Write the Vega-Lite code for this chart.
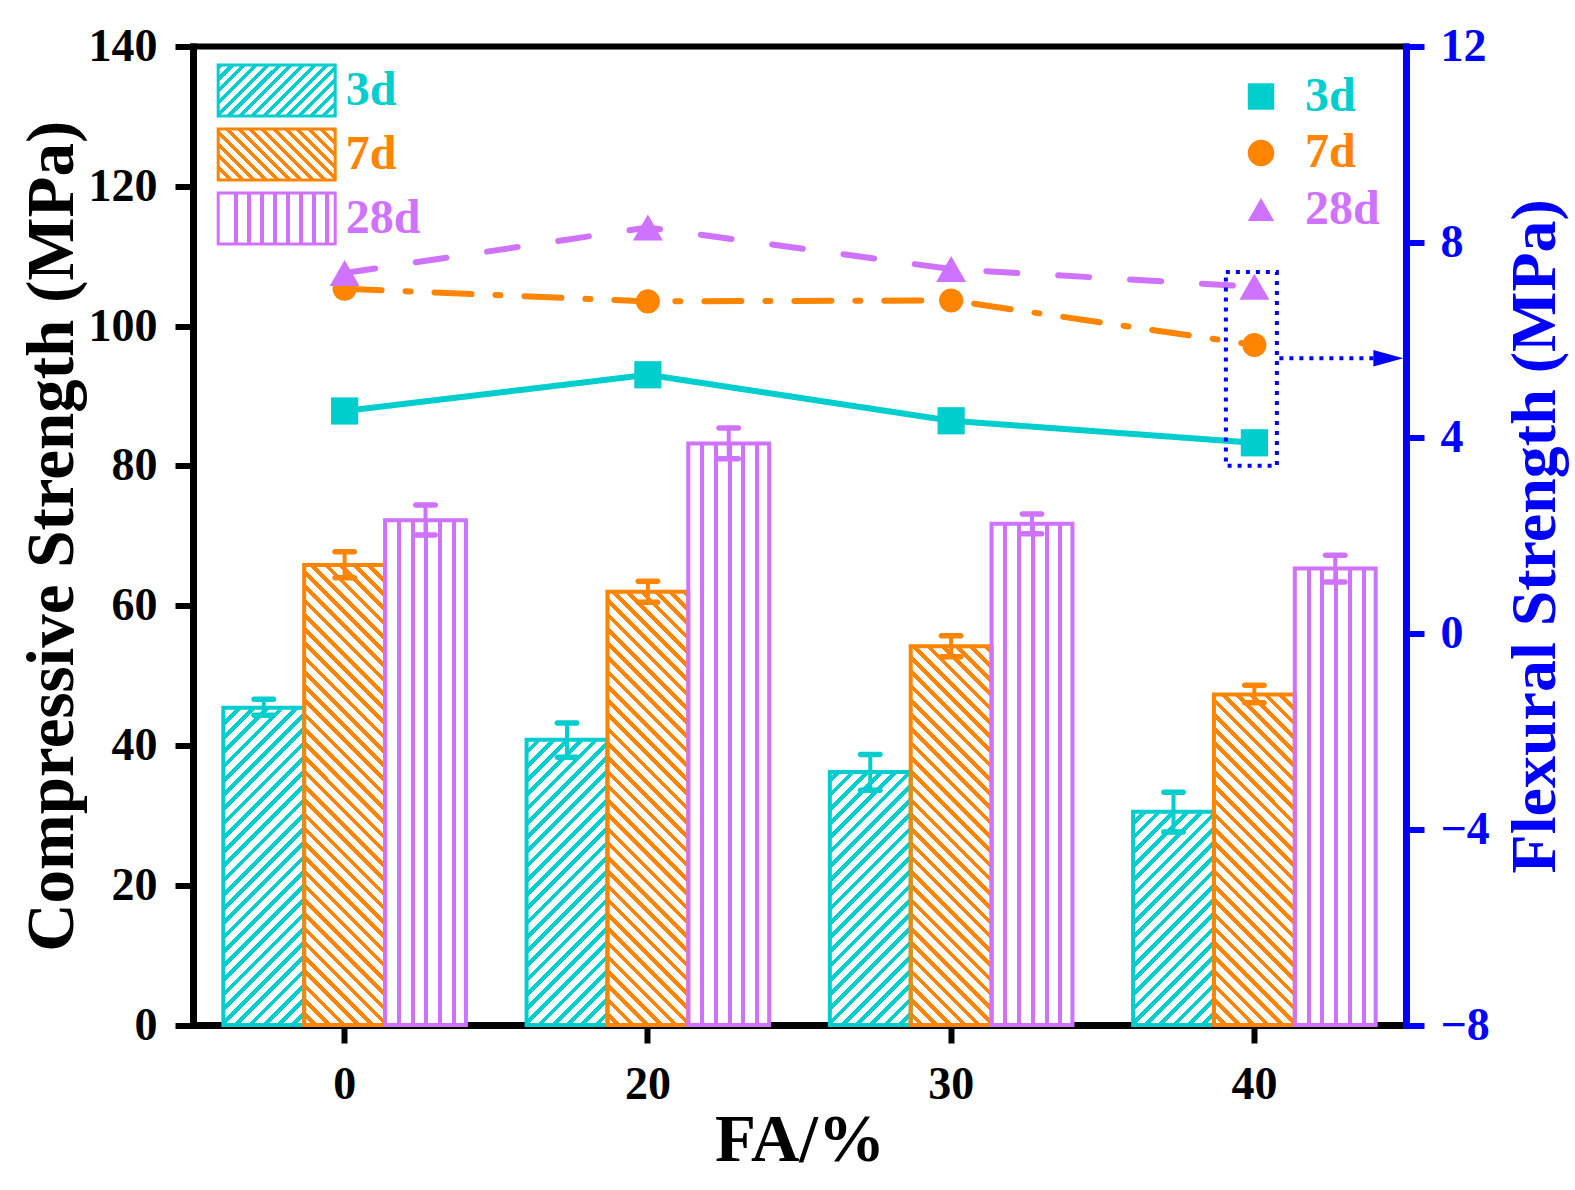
{
"$schema":"https://vega.github.io/schema/vega-lite/v6.json",
"width":1213,"height":978.5,
"autosize":{"type":"none"},
"padding":{"left":193,"top":46.5,"right":169,"bottom":165},
"background":"white",
"datasets":{
"comp":[
{"FA":0,"age":"3d","cs":45.4,"lo":44.3,"hi":46.6},
{"FA":0,"age":"7d","cs":65.8,"lo":64.0,"hi":67.7},
{"FA":0,"age":"28d","cs":72.2,"lo":70.1,"hi":74.4},
{"FA":20,"age":"3d","cs":40.8,"lo":38.3,"hi":43.2},
{"FA":20,"age":"7d","cs":62.0,"lo":60.5,"hi":63.5},
{"FA":20,"age":"28d","cs":83.2,"lo":81.0,"hi":85.4},
{"FA":30,"age":"3d","cs":36.2,"lo":33.6,"hi":38.7},
{"FA":30,"age":"7d","cs":54.2,"lo":52.7,"hi":55.7},
{"FA":30,"age":"28d","cs":71.7,"lo":70.3,"hi":73.1},
{"FA":40,"age":"3d","cs":30.5,"lo":27.6,"hi":33.3},
{"FA":40,"age":"7d","cs":47.3,"lo":46.1,"hi":48.6},
{"FA":40,"age":"28d","cs":65.3,"lo":63.4,"hi":67.2}
],
"flex":[
{"FA":0,"age":"3d","fs":4.55},{"FA":20,"age":"3d","fs":5.29},{"FA":30,"age":"3d","fs":4.35},{"FA":40,"age":"3d","fs":3.90},
{"FA":0,"age":"7d","fs":7.05},{"FA":20,"age":"7d","fs":6.79},{"FA":30,"age":"7d","fs":6.81},{"FA":40,"age":"7d","fs":5.90},
{"FA":0,"age":"28d","fs":7.37},{"FA":20,"age":"28d","fs":8.30},{"FA":30,"age":"28d","fs":7.45},{"FA":40,"age":"28d","fs":7.09}
],
"note":[{"FA":40,"lo":3.43,"hi":7.39,"arrow":5.63}]
},
"encoding":{"x":{"field":"FA","type":"ordinal","scale":{"domain":[0,20,30,40],"paddingInner":0.2,"paddingOuter":0.1},"axis":{"title":"FA/%","labelAngle":0,"labelPadding":19,"titlePadding":0,"values":[0,20,30,40]}}},
"layer":[
{"encoding":{"xOffset":{"field":"age","type":"nominal","scale":{"domain":["3d","7d","28d"],"paddingInner":0,"paddingOuter":0}}},
"layer":[
{"data":{"name":"comp"},"transform":[{"filter":"datum.age == '3d'"}],
"mark":{"type":"bar","strokeWidth":0,"fill":{"gradient":"linear","x1":0,"y1":0,"x2":0.1875,"y2":1.1343,"stops":[
{"offset":0.275,"color":"#00CDCD"},{"offset":0.285,"color":"#00CDCD"},{"offset":0.285,"color":"#fff"},{"offset":0.3,"color":"#fff"},
{"offset":0.3,"color":"#00CDCD"},{"offset":0.31,"color":"#00CDCD"},{"offset":0.31,"color":"#fff"},{"offset":0.325,"color":"#fff"},
{"offset":0.325,"color":"#00CDCD"},{"offset":0.335,"color":"#00CDCD"},{"offset":0.335,"color":"#fff"},{"offset":0.35,"color":"#fff"},
{"offset":0.35,"color":"#00CDCD"},{"offset":0.36,"color":"#00CDCD"},{"offset":0.36,"color":"#fff"},{"offset":0.375,"color":"#fff"},
{"offset":0.375,"color":"#00CDCD"},{"offset":0.385,"color":"#00CDCD"},{"offset":0.385,"color":"#fff"},{"offset":0.4,"color":"#fff"},
{"offset":0.4,"color":"#00CDCD"},{"offset":0.41,"color":"#00CDCD"},{"offset":0.41,"color":"#fff"},{"offset":0.425,"color":"#fff"},
{"offset":0.425,"color":"#00CDCD"},{"offset":0.435,"color":"#00CDCD"},{"offset":0.435,"color":"#fff"},{"offset":0.45,"color":"#fff"},
{"offset":0.45,"color":"#00CDCD"},{"offset":0.46,"color":"#00CDCD"},{"offset":0.46,"color":"#fff"},{"offset":0.475,"color":"#fff"},
{"offset":0.475,"color":"#00CDCD"},{"offset":0.485,"color":"#00CDCD"},{"offset":0.485,"color":"#fff"},{"offset":0.5,"color":"#fff"},
{"offset":0.5,"color":"#00CDCD"},{"offset":0.51,"color":"#00CDCD"},{"offset":0.51,"color":"#fff"},{"offset":0.525,"color":"#fff"},
{"offset":0.525,"color":"#00CDCD"},{"offset":0.535,"color":"#00CDCD"},{"offset":0.535,"color":"#fff"},{"offset":0.55,"color":"#fff"},
{"offset":0.55,"color":"#00CDCD"},{"offset":0.56,"color":"#00CDCD"},{"offset":0.56,"color":"#fff"},{"offset":0.575,"color":"#fff"},
{"offset":0.575,"color":"#00CDCD"},{"offset":0.585,"color":"#00CDCD"},{"offset":0.585,"color":"#fff"},{"offset":0.6,"color":"#fff"},
{"offset":0.6,"color":"#00CDCD"},{"offset":0.61,"color":"#00CDCD"},{"offset":0.61,"color":"#fff"},{"offset":0.625,"color":"#fff"},
{"offset":0.625,"color":"#00CDCD"},{"offset":0.635,"color":"#00CDCD"},{"offset":0.635,"color":"#fff"},{"offset":0.65,"color":"#fff"},
{"offset":0.65,"color":"#00CDCD"},{"offset":0.66,"color":"#00CDCD"},{"offset":0.66,"color":"#fff"},{"offset":0.675,"color":"#fff"},
{"offset":0.675,"color":"#00CDCD"},{"offset":0.685,"color":"#00CDCD"},{"offset":0.685,"color":"#fff"},{"offset":0.7,"color":"#fff"},
{"offset":0.7,"color":"#00CDCD"},{"offset":0.71,"color":"#00CDCD"},{"offset":0.71,"color":"#fff"},{"offset":0.725,"color":"#fff"},
{"offset":0.725,"color":"#00CDCD"},{"offset":0.735,"color":"#00CDCD"},{"offset":0.735,"color":"#fff"},{"offset":0.75,"color":"#fff"},
{"offset":0.75,"color":"#00CDCD"},{"offset":0.76,"color":"#00CDCD"},{"offset":0.76,"color":"#fff"},{"offset":0.775,"color":"#fff"},
{"offset":0.775,"color":"#00CDCD"},{"offset":0.785,"color":"#00CDCD"},{"offset":0.785,"color":"#fff"},{"offset":0.8,"color":"#fff"},
{"offset":0.8,"color":"#00CDCD"},{"offset":0.81,"color":"#00CDCD"},{"offset":0.81,"color":"#fff"},{"offset":0.825,"color":"#fff"},
{"offset":0.825,"color":"#00CDCD"},{"offset":0.835,"color":"#00CDCD"},{"offset":0.835,"color":"#fff"},{"offset":0.85,"color":"#fff"},
{"offset":0.85,"color":"#00CDCD"},{"offset":0.86,"color":"#00CDCD"},{"offset":0.86,"color":"#fff"},{"offset":0.875,"color":"#fff"},
{"offset":0.875,"color":"#00CDCD"},{"offset":0.885,"color":"#00CDCD"},{"offset":0.885,"color":"#fff"},{"offset":0.9,"color":"#fff"},
{"offset":0.9,"color":"#00CDCD"},{"offset":0.91,"color":"#00CDCD"},{"offset":0.91,"color":"#fff"},{"offset":0.925,"color":"#fff"},
{"offset":0.925,"color":"#00CDCD"},{"offset":0.935,"color":"#00CDCD"},{"offset":0.935,"color":"#fff"},{"offset":0.95,"color":"#fff"},
{"offset":0.95,"color":"#00CDCD"},{"offset":0.96,"color":"#00CDCD"},{"offset":0.96,"color":"#fff"},{"offset":0.975,"color":"#fff"},
{"offset":0.975,"color":"#00CDCD"},{"offset":0.985,"color":"#00CDCD"},{"offset":0.985,"color":"#fff"},{"offset":1,"color":"#fff"}
]}},
"encoding":{"y":{"datum":0,"type":"quantitative"},"y2":{"datum":70}}},
{"data":{"name":"comp"},"transform":[{"filter":"datum.age == '7d'"}],
"mark":{"type":"bar","strokeWidth":0,"fill":{"gradient":"linear","x1":1,"y1":0,"x2":0.8125,"y2":1.1343,"stops":[
{"offset":0.025,"color":"#FF8400"},{"offset":0.035,"color":"#FF8400"},{"offset":0.035,"color":"#fff"},{"offset":0.05,"color":"#fff"},
{"offset":0.05,"color":"#FF8400"},{"offset":0.06,"color":"#FF8400"},{"offset":0.06,"color":"#fff"},{"offset":0.075,"color":"#fff"},
{"offset":0.075,"color":"#FF8400"},{"offset":0.085,"color":"#FF8400"},{"offset":0.085,"color":"#fff"},{"offset":0.1,"color":"#fff"},
{"offset":0.1,"color":"#FF8400"},{"offset":0.11,"color":"#FF8400"},{"offset":0.11,"color":"#fff"},{"offset":0.125,"color":"#fff"},
{"offset":0.125,"color":"#FF8400"},{"offset":0.135,"color":"#FF8400"},{"offset":0.135,"color":"#fff"},{"offset":0.15,"color":"#fff"},
{"offset":0.15,"color":"#FF8400"},{"offset":0.16,"color":"#FF8400"},{"offset":0.16,"color":"#fff"},{"offset":0.175,"color":"#fff"},
{"offset":0.175,"color":"#FF8400"},{"offset":0.185,"color":"#FF8400"},{"offset":0.185,"color":"#fff"},{"offset":0.2,"color":"#fff"},
{"offset":0.2,"color":"#FF8400"},{"offset":0.21,"color":"#FF8400"},{"offset":0.21,"color":"#fff"},{"offset":0.225,"color":"#fff"},
{"offset":0.225,"color":"#FF8400"},{"offset":0.235,"color":"#FF8400"},{"offset":0.235,"color":"#fff"},{"offset":0.25,"color":"#fff"},
{"offset":0.25,"color":"#FF8400"},{"offset":0.26,"color":"#FF8400"},{"offset":0.26,"color":"#fff"},{"offset":0.275,"color":"#fff"},
{"offset":0.275,"color":"#FF8400"},{"offset":0.285,"color":"#FF8400"},{"offset":0.285,"color":"#fff"},{"offset":0.3,"color":"#fff"},
{"offset":0.3,"color":"#FF8400"},{"offset":0.31,"color":"#FF8400"},{"offset":0.31,"color":"#fff"},{"offset":0.325,"color":"#fff"},
{"offset":0.325,"color":"#FF8400"},{"offset":0.335,"color":"#FF8400"},{"offset":0.335,"color":"#fff"},{"offset":0.35,"color":"#fff"},
{"offset":0.35,"color":"#FF8400"},{"offset":0.36,"color":"#FF8400"},{"offset":0.36,"color":"#fff"},{"offset":0.375,"color":"#fff"},
{"offset":0.375,"color":"#FF8400"},{"offset":0.385,"color":"#FF8400"},{"offset":0.385,"color":"#fff"},{"offset":0.4,"color":"#fff"},
{"offset":0.4,"color":"#FF8400"},{"offset":0.41,"color":"#FF8400"},{"offset":0.41,"color":"#fff"},{"offset":0.425,"color":"#fff"},
{"offset":0.425,"color":"#FF8400"},{"offset":0.435,"color":"#FF8400"},{"offset":0.435,"color":"#fff"},{"offset":0.45,"color":"#fff"},
{"offset":0.45,"color":"#FF8400"},{"offset":0.46,"color":"#FF8400"},{"offset":0.46,"color":"#fff"},{"offset":0.475,"color":"#fff"},
{"offset":0.475,"color":"#FF8400"},{"offset":0.485,"color":"#FF8400"},{"offset":0.485,"color":"#fff"},{"offset":0.5,"color":"#fff"},
{"offset":0.5,"color":"#FF8400"},{"offset":0.51,"color":"#FF8400"},{"offset":0.51,"color":"#fff"},{"offset":0.525,"color":"#fff"},
{"offset":0.525,"color":"#FF8400"},{"offset":0.535,"color":"#FF8400"},{"offset":0.535,"color":"#fff"},{"offset":0.55,"color":"#fff"},
{"offset":0.55,"color":"#FF8400"},{"offset":0.56,"color":"#FF8400"},{"offset":0.56,"color":"#fff"},{"offset":0.575,"color":"#fff"},
{"offset":0.575,"color":"#FF8400"},{"offset":0.585,"color":"#FF8400"},{"offset":0.585,"color":"#fff"},{"offset":0.6,"color":"#fff"},
{"offset":0.6,"color":"#FF8400"},{"offset":0.61,"color":"#FF8400"},{"offset":0.61,"color":"#fff"},{"offset":0.625,"color":"#fff"},
{"offset":0.625,"color":"#FF8400"},{"offset":0.635,"color":"#FF8400"},{"offset":0.635,"color":"#fff"},{"offset":0.65,"color":"#fff"},
{"offset":0.65,"color":"#FF8400"},{"offset":0.66,"color":"#FF8400"},{"offset":0.66,"color":"#fff"},{"offset":0.675,"color":"#fff"},
{"offset":0.675,"color":"#FF8400"},{"offset":0.685,"color":"#FF8400"},{"offset":0.685,"color":"#fff"},{"offset":0.7,"color":"#fff"},
{"offset":0.7,"color":"#FF8400"},{"offset":0.71,"color":"#FF8400"},{"offset":0.71,"color":"#fff"},{"offset":0.725,"color":"#fff"},
{"offset":0.725,"color":"#FF8400"},{"offset":0.735,"color":"#FF8400"},{"offset":0.735,"color":"#fff"},{"offset":0.75,"color":"#fff"},
{"offset":0.75,"color":"#FF8400"},{"offset":0.76,"color":"#FF8400"},{"offset":0.76,"color":"#fff"},{"offset":0.775,"color":"#fff"},
{"offset":0.775,"color":"#FF8400"},{"offset":0.785,"color":"#FF8400"},{"offset":0.785,"color":"#fff"},{"offset":0.8,"color":"#fff"},
{"offset":0.8,"color":"#FF8400"},{"offset":0.81,"color":"#FF8400"},{"offset":0.81,"color":"#fff"},{"offset":0.825,"color":"#fff"},
{"offset":0.825,"color":"#FF8400"},{"offset":0.835,"color":"#FF8400"},{"offset":0.835,"color":"#fff"},{"offset":0.85,"color":"#fff"},
{"offset":0.85,"color":"#FF8400"},{"offset":0.86,"color":"#FF8400"},{"offset":0.86,"color":"#fff"},{"offset":0.875,"color":"#fff"},
{"offset":0.875,"color":"#FF8400"},{"offset":0.885,"color":"#FF8400"},{"offset":0.885,"color":"#fff"},{"offset":0.9,"color":"#fff"},
{"offset":0.9,"color":"#FF8400"},{"offset":0.91,"color":"#FF8400"},{"offset":0.91,"color":"#fff"},{"offset":0.925,"color":"#fff"},
{"offset":0.925,"color":"#FF8400"},{"offset":0.935,"color":"#FF8400"},{"offset":0.935,"color":"#fff"},{"offset":0.95,"color":"#fff"},
{"offset":0.95,"color":"#FF8400"},{"offset":0.96,"color":"#FF8400"},{"offset":0.96,"color":"#fff"},{"offset":0.975,"color":"#fff"},
{"offset":0.975,"color":"#FF8400"},{"offset":0.985,"color":"#FF8400"},{"offset":0.985,"color":"#fff"},{"offset":1,"color":"#fff"}
]}},
"encoding":{"y":{"datum":0,"type":"quantitative"},"y2":{"datum":70}}},
{"data":{"name":"comp"},"transform":[{"filter":"datum.age == '28d'"}],
"mark":{"type":"bar","strokeWidth":0,"fill":{"gradient":"linear","x1":0,"y1":0,"x2":1,"y2":0,"stops":[
{"offset":0,"color":"#fff"},{"offset":0.145,"color":"#fff"},{"offset":0.145,"color":"#CF72FF"},{"offset":0.195,"color":"#CF72FF"},{"offset":0.195,"color":"#fff"},
{"offset":0.315,"color":"#fff"},{"offset":0.315,"color":"#CF72FF"},{"offset":0.365,"color":"#CF72FF"},{"offset":0.365,"color":"#fff"},
{"offset":0.485,"color":"#fff"},{"offset":0.485,"color":"#CF72FF"},{"offset":0.535,"color":"#CF72FF"},{"offset":0.535,"color":"#fff"},
{"offset":0.655,"color":"#fff"},{"offset":0.655,"color":"#CF72FF"},{"offset":0.705,"color":"#CF72FF"},{"offset":0.705,"color":"#fff"},
{"offset":0.825,"color":"#fff"},{"offset":0.825,"color":"#CF72FF"},{"offset":0.875,"color":"#CF72FF"},{"offset":0.875,"color":"#fff"},
{"offset":1,"color":"#fff"}
]}},
"encoding":{"y":{"field":"cs","type":"quantitative","stack":null}}},
{"data":{"name":"comp"},"transform":[{"filter":"datum.age != '28d'"}],
"mark":{"type":"bar","fill":"white","stroke":"white","strokeWidth":3},
"encoding":{"y":{"field":"cs","type":"quantitative"},"y2":{"datum":70}}},
{"data":{"name":"comp"},
"mark":{"type":"bar","filled":false,"strokeWidth":4,"strokeJoin":"miter","opacity":1},
"encoding":{
"y":{"field":"cs","type":"quantitative","stack":null,"scale":{"domain":[0,140],"nice":false},
"axis":{"orient":"left","values":[0,20,40,60,80,100,120,140],"title":"Compressive Strength (MPa)","labelPadding":18,"titlePadding":2}},
"color":{"field":"age","type":"nominal","scale":{"domain":["28d","3d","7d"],"range":["#CF72FF","#00CDCD","#FF8400"]},"legend":null}}},
{"data":{"name":"comp"},"mark":{"type":"rule","strokeWidth":4},
"encoding":{"y":{"field":"lo","type":"quantitative"},"y2":{"field":"hi"},
"stroke":{"field":"age","type":"nominal","scale":{"domain":["3d","7d","28d"],"range":["#00CDCD","#FF8400","#CF72FF"]},
"legend":{"orient":"none","legendX":56.7,"legendY":17,"title":null,"padding":0,"rowPadding":0,"labelOffset":42,
"symbolType":"M-2.294,-1H2.294V1H-2.294Z","symbolSize":2601,"symbolStrokeWidth":3,"symbolOpacity":1,
"labelColor":{"expr":"datum.value=='3d'?'#00CDCD':datum.value=='7d'?'#FF8400':'#CF72FF'"},
"symbolFillColor":{"expr":"datum.value=='3d'?{gradient:'linear',x1:0,y1:0,x2:1.2066,y2:0.526,stops:[{offset:0,color:'#00CDCD'},{offset:0.03,color:'#00CDCD'},{offset:0.03,color:'#fff'},{offset:0.07,color:'#fff'},{offset:0.07,color:'#00CDCD'},{offset:0.1,color:'#00CDCD'},{offset:0.1,color:'#fff'},{offset:0.14,color:'#fff'},{offset:0.14,color:'#00CDCD'},{offset:0.17,color:'#00CDCD'},{offset:0.17,color:'#fff'},{offset:0.21,color:'#fff'},{offset:0.21,color:'#00CDCD'},{offset:0.24,color:'#00CDCD'},{offset:0.24,color:'#fff'},{offset:0.28,color:'#fff'},{offset:0.28,color:'#00CDCD'},{offset:0.31,color:'#00CDCD'},{offset:0.31,color:'#fff'},{offset:0.35,color:'#fff'},{offset:0.35,color:'#00CDCD'},{offset:0.38,color:'#00CDCD'},{offset:0.38,color:'#fff'},{offset:0.42,color:'#fff'},{offset:0.42,color:'#00CDCD'},{offset:0.45,color:'#00CDCD'},{offset:0.45,color:'#fff'},{offset:0.49,color:'#fff'},{offset:0.49,color:'#00CDCD'},{offset:0.52,color:'#00CDCD'},{offset:0.52,color:'#fff'},{offset:0.56,color:'#fff'},{offset:0.56,color:'#00CDCD'},{offset:0.59,color:'#00CDCD'},{offset:0.59,color:'#fff'},{offset:0.63,color:'#fff'},{offset:0.63,color:'#00CDCD'},{offset:0.66,color:'#00CDCD'},{offset:0.66,color:'#fff'},{offset:0.7,color:'#fff'},{offset:0.7,color:'#00CDCD'},{offset:0.73,color:'#00CDCD'},{offset:0.73,color:'#fff'},{offset:0.77,color:'#fff'},{offset:0.77,color:'#00CDCD'},{offset:0.8,color:'#00CDCD'},{offset:0.8,color:'#fff'},{offset:0.84,color:'#fff'},{offset:0.84,color:'#00CDCD'},{offset:0.87,color:'#00CDCD'},{offset:0.87,color:'#fff'},{offset:0.91,color:'#fff'},{offset:0.91,color:'#00CDCD'},{offset:0.94,color:'#00CDCD'},{offset:0.94,color:'#fff'},{offset:0.98,color:'#fff'},{offset:0.98,color:'#00CDCD'},{offset:1,color:'#00CDCD'}]}:datum.value=='7d'?{gradient:'linear',x1:1,y1:0,x2:-0.2066,y2:0.526,stops:[{offset:0,color:'#FF8400'},{offset:0.03,color:'#FF8400'},{offset:0.03,color:'#fff'},{offset:0.07,color:'#fff'},{offset:0.07,color:'#FF8400'},{offset:0.1,color:'#FF8400'},{offset:0.1,color:'#fff'},{offset:0.14,color:'#fff'},{offset:0.14,color:'#FF8400'},{offset:0.17,color:'#FF8400'},{offset:0.17,color:'#fff'},{offset:0.21,color:'#fff'},{offset:0.21,color:'#FF8400'},{offset:0.24,color:'#FF8400'},{offset:0.24,color:'#fff'},{offset:0.28,color:'#fff'},{offset:0.28,color:'#FF8400'},{offset:0.31,color:'#FF8400'},{offset:0.31,color:'#fff'},{offset:0.35,color:'#fff'},{offset:0.35,color:'#FF8400'},{offset:0.38,color:'#FF8400'},{offset:0.38,color:'#fff'},{offset:0.42,color:'#fff'},{offset:0.42,color:'#FF8400'},{offset:0.45,color:'#FF8400'},{offset:0.45,color:'#fff'},{offset:0.49,color:'#fff'},{offset:0.49,color:'#FF8400'},{offset:0.52,color:'#FF8400'},{offset:0.52,color:'#fff'},{offset:0.56,color:'#fff'},{offset:0.56,color:'#FF8400'},{offset:0.59,color:'#FF8400'},{offset:0.59,color:'#fff'},{offset:0.63,color:'#fff'},{offset:0.63,color:'#FF8400'},{offset:0.66,color:'#FF8400'},{offset:0.66,color:'#fff'},{offset:0.7,color:'#fff'},{offset:0.7,color:'#FF8400'},{offset:0.73,color:'#FF8400'},{offset:0.73,color:'#fff'},{offset:0.77,color:'#fff'},{offset:0.77,color:'#FF8400'},{offset:0.8,color:'#FF8400'},{offset:0.8,color:'#fff'},{offset:0.84,color:'#fff'},{offset:0.84,color:'#FF8400'},{offset:0.87,color:'#FF8400'},{offset:0.87,color:'#fff'},{offset:0.91,color:'#fff'},{offset:0.91,color:'#FF8400'},{offset:0.94,color:'#FF8400'},{offset:0.94,color:'#fff'},{offset:0.98,color:'#fff'},{offset:0.98,color:'#FF8400'},{offset:1,color:'#FF8400'}]}:{gradient:'linear',x1:0,y1:0,x2:1,y2:0,stops:[{offset:0,color:'#fff'},{offset:0.138,color:'#fff'},{offset:0.138,color:'#CF72FF'},{offset:0.172,color:'#CF72FF'},{offset:0.172,color:'#fff'},{offset:0.249,color:'#fff'},{offset:0.249,color:'#CF72FF'},{offset:0.283,color:'#CF72FF'},{offset:0.283,color:'#fff'},{offset:0.36,color:'#fff'},{offset:0.36,color:'#CF72FF'},{offset:0.394,color:'#CF72FF'},{offset:0.394,color:'#fff'},{offset:0.471,color:'#fff'},{offset:0.471,color:'#CF72FF'},{offset:0.505,color:'#CF72FF'},{offset:0.505,color:'#fff'},{offset:0.582,color:'#fff'},{offset:0.582,color:'#CF72FF'},{offset:0.616,color:'#CF72FF'},{offset:0.616,color:'#fff'},{offset:0.693,color:'#fff'},{offset:0.693,color:'#CF72FF'},{offset:0.727,color:'#CF72FF'},{offset:0.727,color:'#fff'},{offset:0.804,color:'#fff'},{offset:0.804,color:'#CF72FF'},{offset:0.838,color:'#CF72FF'},{offset:0.838,color:'#fff'},{offset:0.915,color:'#fff'},{offset:0.915,color:'#CF72FF'},{offset:0.949,color:'#CF72FF'},{offset:0.949,color:'#fff'},{offset:1,color:'#fff'}]}"}
}}}},
{"data":{"name":"comp"},"mark":{"type":"tick","thickness":5.5,"size":25,"cornerRadius":2.75,"opacity":1},
"encoding":{"y":{"field":"lo","type":"quantitative"},"color":{"field":"age","type":"nominal","legend":null}}},
{"data":{"name":"comp"},"mark":{"type":"tick","thickness":5.5,"size":25,"cornerRadius":2.75,"opacity":1},
"encoding":{"y":{"field":"hi","type":"quantitative"},"color":{"field":"age","type":"nominal","legend":null}}}
]},
{"layer":[
{"data":{"name":"flex"},"mark":{"type":"line","strokeWidth":6,"strokeCap":"round","strokeJoin":"round"},
"encoding":{
"y":{"field":"fs","type":"quantitative","scale":{"domain":[-8,12],"nice":false,"zero":false},
"axis":{"orient":"right","values":[-8,-4,0,4,8,12],"title":"Flexural Strength (MPa)","domainColor":"#0000FF","tickColor":"#0000FF","labelColor":"#0000FF","titleColor":"#0000FF","labelPadding":16,"titlePadding":14,"titleAngle":270,"titleBaseline":"top","titleFontSize":64}},
"color":{"field":"age","type":"nominal","legend":null},
"strokeDash":{"field":"age","type":"nominal","scale":{"domain":["28d","3d","7d"],"range":[[31,41],[1,0],[37,24,5,24]]},"legend":null}}},
{"data":{"name":"flex"},"mark":{"type":"point","filled":true,"opacity":1,"strokeWidth":0},
"encoding":{
"y":{"field":"fs","type":"quantitative"},
"fill":{"field":"age","type":"nominal","scale":{"domain":["28d","3d","7d"],"range":["#CF72FF","#00CDCD","#FF8400"]},"legend":null},
"size":{"field":"age","type":"nominal","scale":{"domain":["28d","3d","7d"],"range":[900,580,680]},"legend":null},
"shape":{"field":"age","type":"nominal","scale":{"domain":["3d","7d","28d"],"range":["square","circle","triangle-up"]},
"legend":{"orient":"top-right","offset":26,"title":null,"padding":0,"rowPadding":8.5,"labelOffset":20,"symbolSize":700,"symbolStrokeWidth":0,"symbolOpacity":1,
"symbolFillColor":{"expr":"datum.value=='3d'?'#00CDCD':datum.value=='7d'?'#FF8400':'#CF72FF'"},
"labelColor":{"expr":"datum.value=='3d'?'#00CDCD':datum.value=='7d'?'#FF8400':'#CF72FF'"}}}}},
{"data":{"name":"note"},"mark":{"type":"bar","width":51,"xOffset":-3,"fill":"transparent","stroke":"#0000FF","strokeWidth":4,"strokeDash":[4,6]},
"encoding":{"y":{"field":"lo","type":"quantitative"},"y2":{"field":"hi"}}},
{"data":{"name":"note"},"mark":{"type":"rule","stroke":"#0000FF","strokeWidth":4,"strokeDash":[4,6],"xOffset":25,"x2Offset":121},
"encoding":{"y":{"field":"arrow","type":"quantitative"},"x2":{"field":"FA"}}},
{"data":{"name":"note"},"mark":{"type":"point","shape":"M1,0L-1,-0.55L-1,0.55Z","size":900,"filled":true,"fill":"#0000FF","opacity":1,"strokeWidth":0,"xOffset":134},
"encoding":{"y":{"field":"arrow","type":"quantitative"}}}
]}
],
"resolve":{"scale":{"y":"independent"}},
"config":{
"view":{"stroke":"black","strokeWidth":6},
"axis":{"zindex":1,"grid":false,"domainWidth":7,"domainColor":"black","domainCap":"square","tickWidth":6,"tickSize":18,"tickColor":"black",
"labelFont":"Liberation Serif","labelFontWeight":"bold","labelFontSize":46,"labelColor":"black",
"titleFont":"Liberation Serif","titleFontWeight":"bold","titleFontSize":67,"titleColor":"black"},
"legend":{"labelFont":"Liberation Serif","labelFontWeight":"bold","labelFontSize":48,"labelLimit":300}
}
}
